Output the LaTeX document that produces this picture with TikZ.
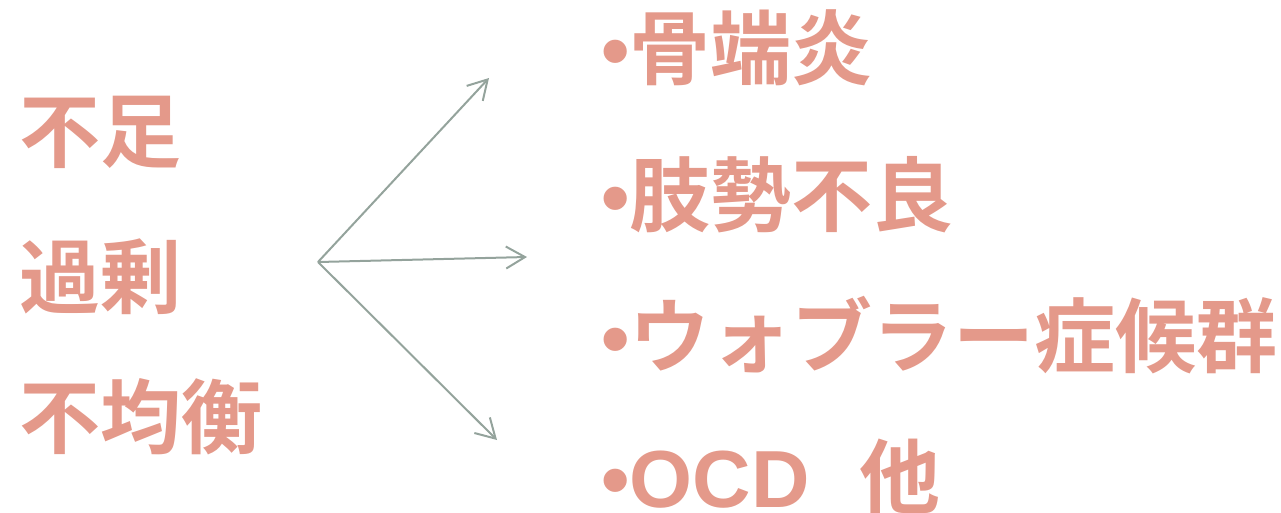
\documentclass[tikz,border=0pt]{standalone}
\usepackage{fontspec}
\usetikzlibrary{arrows.meta}
\newfontfamily\cjk[BoldFont={* Bold}]{Noto Sans CJK JP}
\newfontfamily\lat{Liberation Sans}
\definecolor{salmon}{HTML}{E4998A}
\definecolor{arrowgray}{HTML}{94A39C}
\begin{document}
\begin{tikzpicture}[x=1pt,y=-1pt,
  lbl/.style={anchor=west,inner sep=0pt,text=salmon,font=\fontsize{81}{81}\selectfont\cjk\bfseries},
  conn/.style={draw=arrowgray,line width=2pt,-{Straight Barb[length=19pt,width=22pt,line width=2pt]}}]
\useasboundingbox (0,0) rectangle (1281,512);
% left column
\node[lbl] (fusoku) at (19,132) {不足};
\node[lbl] (kajo) at (19,277) {過剰};
\node[lbl] (fukinko) at (19,417) {不均衡};
% right column
\node[lbl] (kotsu) at (601,48) {{\lat\bfseries •}骨端炎};
\node[lbl] (shisei) at (601,195) {{\lat\bfseries •}肢勢不良};
\node[lbl] (wobbler) at (601,335) {{\lat\bfseries •}ウォブラー症候群};
\node[lbl] (ocd) at (601,477) {{\lat\bfseries •OCD}\hspace{50pt}他};
% arrows
\coordinate (o) at (318,262);
\coordinate (t1) at (489,78);
\coordinate (t2) at (527,257);
\coordinate (t3) at (497,440);
\draw[conn] (o) -- (t1);
\draw[conn] (o) -- (t2);
\draw[conn] (o) -- (t3);
\end{tikzpicture}
\end{document}
